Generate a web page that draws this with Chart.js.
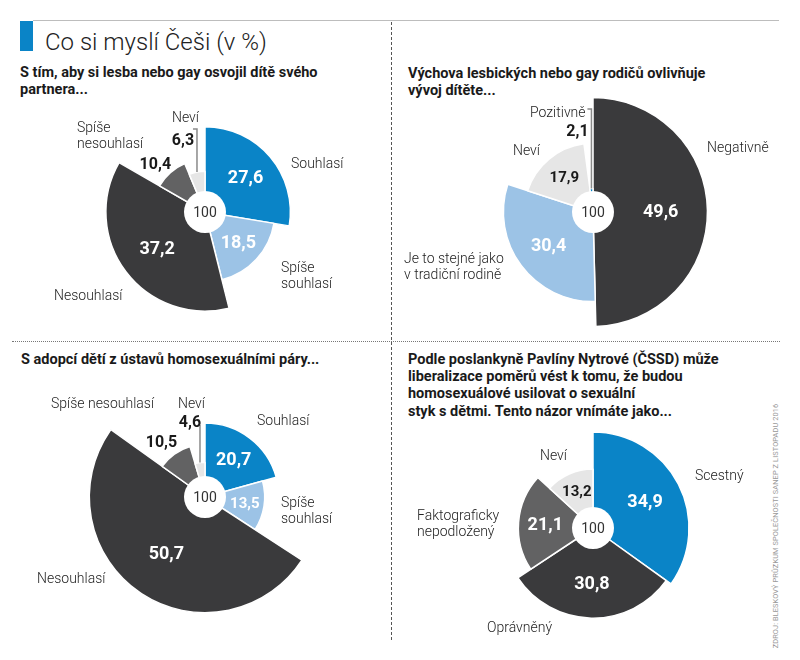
<!DOCTYPE html>
<html lang="cs">
<head>
<meta charset="utf-8">
<script src="https://cdn.jsdelivr.net/npm/chart.js@4.4.1/dist/chart.umd.min.js"></script>
<style>
  body { margin:0; width:800px; height:660px; background:#fff; position:relative; overflow:hidden;
         font-family: Roboto, 'Noto Sans', sans-serif; color:#1e1e1e; }
  .abs { position:absolute; white-space:nowrap; }
  .pie { position:absolute; width:260px; height:260px; }
  .title { font-size:24px; font-weight:300; line-height:28px; color:#222; }
  .head { font-size:14.5px; font-weight:700; line-height:17.2px; color:#1a1a1a; }
  .lab { font-size:14px; font-weight:300; line-height:16.6px; color:#222; }
  .src { font-size:7.4px; color:#999; letter-spacing:0.1px; transform:translate(-50%,-50%) rotate(-90deg); }
</style>
</head>
<body>

<!-- frame -->
<div class="abs" style="left:20px;top:21px;width:13px;height:30px;background:#0a84c7"></div>
<div class="abs" style="left:33px;top:20px;width:746px;height:0;border-top:1.5px solid #bdbdbd"></div>
<div class="abs" style="left:391px;top:22px;width:0;height:618px;border-left:1px dashed #555"></div>
<div class="abs" style="left:12px;top:341px;width:768px;height:0;border-top:1px dotted #777"></div>

<div class="abs title" style="left:45px;top:28px">Co si myslí Češi (v %)</div>

<div class="abs head" style="left:20px;top:64px">S tím, aby si lesba nebo gay osvojil dítě svého<br>partnera...</div>
<div class="abs head" style="left:408px;top:65px">Výchova lesbických nebo gay rodičů ovlivňuje<br>vývoj dítěte...</div>
<div class="abs head" style="left:21px;top:351px">S adopcí dětí z ústavů homosexuálními páry...</div>
<div class="abs head" style="left:408px;top:351px">Podle poslankyně Pavlíny Nytrové (ČSSD) může<br>liberalizace poměrů vést k tomu, že budou<br>homosexuálové usilovat o sexuální<br>styk s dětmi. Tento názor vnímáte jako...</div>

<div class="pie" style="left:75px;top:82px"><canvas id="q1" width="260" height="260"></canvas></div>
<div class="pie" style="left:463px;top:82px"><canvas id="q2" width="260" height="260"></canvas></div>
<div class="pie" style="left:75px;top:367px"><canvas id="q3" width="260" height="260"></canvas></div>
<div class="pie" style="left:463px;top:398px"><canvas id="q4" width="260" height="260"></canvas></div>

<div id="labels"></div>

<div class="abs src" style="left:775px;top:526px">ZDROJ: BLESKOVÝ PRŮZKUM SPOLEČNOSTI SANEP Z LISTOPADU 2016</div>

<script>
// ─── Data ────────────────────────────────────────────────────────────────────
const total = 100;

const q1Labels = ['Souhlasí', ['Spíše', 'souhlasí'], 'Nesouhlasí', ['Spíše', 'nesouhlasí'], 'Neví'];
const q1Values = [27.6, 18.5, 37.2, 10.4, 6.3];

const q2Labels = ['Negativně', ['Je to stejné jako', 'v tradiční rodině'], 'Neví', 'Pozitivně'];
const q2Values = [49.6, 30.4, 17.9, 2.1];

const q3Labels = ['Souhlasí', ['Spíše', 'souhlasí'], 'Nesouhlasí', 'Spíše nesouhlasí', 'Neví'];
const q3Values = [20.7, 13.5, 50.7, 10.5, 4.6];

const q4Labels = ['Scestný', 'Oprávněný', ['Faktograficky', 'nepodložený'], 'Neví'];
const q4Values = [34.9, 30.8, 21.1, 13.2];

// ─── Design tokens ───────────────────────────────────────────────────────────
const C = {
  blue:  '#0a84c7',
  lblue: '#9cc3e6',
  dark:  '#3a3a3c',
  mid:   '#626263',
  light: '#e6e6e6',
  line:  '#8a8a8a',
};
const q1Colors = [C.blue, C.lblue, C.dark, C.mid, C.light];
const q2Colors = [C.dark, C.lblue, C.light, C.blue];
const q3Colors = [C.blue, C.lblue, C.dark, C.mid, C.light];
const q4Colors = [C.blue, C.dark, C.mid, C.light];

// category label anchors (left, first-line middle) in page px
const q1LabelPos = [[291, 163], [281, 267], [54, 295], [77, 127], [172, 117]];
const q2LabelPos = [[707, 147], [404, 258], [513, 150], [530, 112]];
const q3LabelPos = [[257, 420], [281, 502], [37, 578], [51, 403], [178, 403]];
const q4LabelPos = [[695, 475], [487, 627], [417, 515], [540, 455]];

Chart.defaults.font.family = "Roboto, 'Noto Sans', sans-serif";

// ─── Square-root radial scale: slice area follows the value ─────────────────
const RadialLinear = Chart.registry.getScale('radialLinear');
class SqrtRadialScale extends RadialLinear {
  getDistanceFromCenterForValue(value) {
    if (value == null || isNaN(value)) return NaN;
    const t = Math.max(0, value - this.min) / (this.max - this.min);
    return this.drawingArea * Math.sqrt(t);
  }
}
SqrtRadialScale.id = 'sqrtRadial';
SqrtRadialScale.defaults = RadialLinear.defaults;
Chart.register(SqrtRadialScale);

// ─── Value labels, leader lines, centre disc ────────────────────────────────
const HOLE = 21;
const pieText = {
  id: 'pieText',
  afterDatasetsDraw(chart, args, opts) {
    const { ctx } = chart;
    const meta = chart.getDatasetMeta(0);
    const vals = chart.data.datasets[0].data;
    const colors = chart.data.datasets[0].backgroundColor;
    let cx = 0, cy = 0;
    ctx.save();
    // leader lines first
    meta.data.forEach((arc, i) => {
      const p = arc.getProps(['x', 'y', 'startAngle', 'endAngle', 'outerRadius'], true);
      cx = p.x; cy = p.y;
      const L = opts.leaders && opts.leaders[i];
      if (!L) return;
      const mid = (p.startAngle + p.endAngle) / 2;
      const ox = p.x + Math.cos(mid) * p.outerRadius;
      const oy = p.y + Math.sin(mid) * p.outerRadius;
      ctx.strokeStyle = C.line;
      ctx.lineWidth = 1.5;
      ctx.beginPath();
      if (L.tick) ctx.moveTo(ox - 4, p.y + L.top);
      else ctx.moveTo(ox, p.y + L.top);
      ctx.lineTo(ox, p.y + L.top);
      ctx.lineTo(ox, oy);
      ctx.stroke();
    });
    // centre disc
    ctx.fillStyle = '#fff';
    ctx.beginPath();
    ctx.arc(cx, cy, HOLE, 0, Math.PI * 2);
    ctx.fill();
    ctx.fillStyle = '#333';
    ctx.font = "400 14px Roboto, 'Noto Sans', sans-serif";
    ctx.textAlign = 'center';
    ctx.textBaseline = 'middle';
    ctx.fillText(String(total), cx, cy + 1);
    // values
    meta.data.forEach((arc, i) => {
      const p = arc.getProps(['x', 'y', 'startAngle', 'endAngle', 'outerRadius'], true);
      const mid = (p.startAngle + p.endAngle) / 2;
      const v = vals[i];
      const txt = v.toFixed(1).replace('.', ',');
      const out = opts.outside && opts.outside[i];
      let x, y;
      if (out) {
        x = p.x + Math.cos(mid) * p.outerRadius + out[0];
        y = p.y + Math.sin(mid) * p.outerRadius + out[1];
        ctx.font = "700 16px Roboto, 'Noto Sans', sans-serif";
        ctx.fillStyle = '#1a1a1a';
      } else {
        const r = (HOLE + p.outerRadius) / 2;
        x = p.x + Math.cos(mid) * r;
        y = p.y + Math.sin(mid) * r;
        ctx.font = `700 ${v >= 18 ? 18 : 15}px Roboto, 'Noto Sans', sans-serif`;
        ctx.fillStyle = colors[i] === C.light ? '#1a1a1a' : '#fff';
      }
      ctx.fillText(txt, x, y + 1);
    });
    ctx.restore();
  }
};

function makePie(id, labels, values, colors, extra) {
  const el = document.getElementById(id);
  if (!el) return;
  new Chart(el, {
    type: 'polarArea',
    data: { labels, datasets: [{
      data: values,
      backgroundColor: colors,
      borderColor: '#fff',
      borderWidth: 1.5,
      angle: c => c.dataset.data[c.dataIndex] / total * 360,
    }]},
    options: {
      responsive: false, animation: false,
      layout: { padding: 0 },
      scales: { r: { type: 'sqrtRadial', min: 0, max: 64,
        ticks: { display: false }, grid: { display: false },
        angleLines: { display: false }, pointLabels: { display: false } } },
      plugins: { legend: { display: false }, tooltip: { enabled: false }, pieText: extra },
    },
    plugins: [pieText],
  });
}

function placeLabels(labels, pos) {
  const host = document.getElementById('labels');
  labels.forEach((lab, i) => {
    const d = document.createElement('div');
    d.className = 'abs lab';
    d.style.left = pos[i][0] + 'px';
    d.style.top = (pos[i][1] - 8.3) + 'px';
    d.innerHTML = Array.isArray(lab) ? lab.join('<br>') : lab;
    host.appendChild(d);
  });
}

makePie('q1', q1Labels, q1Values, q1Colors, {
  outside: { 3: [-15, -9], 4: [-14, -32] },
  leaders: { 4: { top: -83, tick: true } },
});
makePie('q2', q2Labels, q2Values, q2Colors, {
  outside: { 3: [-14, -58] },
  leaders: { 3: { top: -103, tick: true } },
});
makePie('q3', q3Labels, q3Values, q3Colors, {
  outside: { 3: [-13, -12], 4: [-10, -41] },
  leaders: { 4: { top: -72, tick: false } },
});
makePie('q4', q4Labels, q4Values, q4Colors, {});

placeLabels(q1Labels, q1LabelPos);
placeLabels(q2Labels, q2LabelPos);
placeLabels(q3Labels, q3LabelPos);
placeLabels(q4Labels, q4LabelPos);
</script>
</body>
</html>
